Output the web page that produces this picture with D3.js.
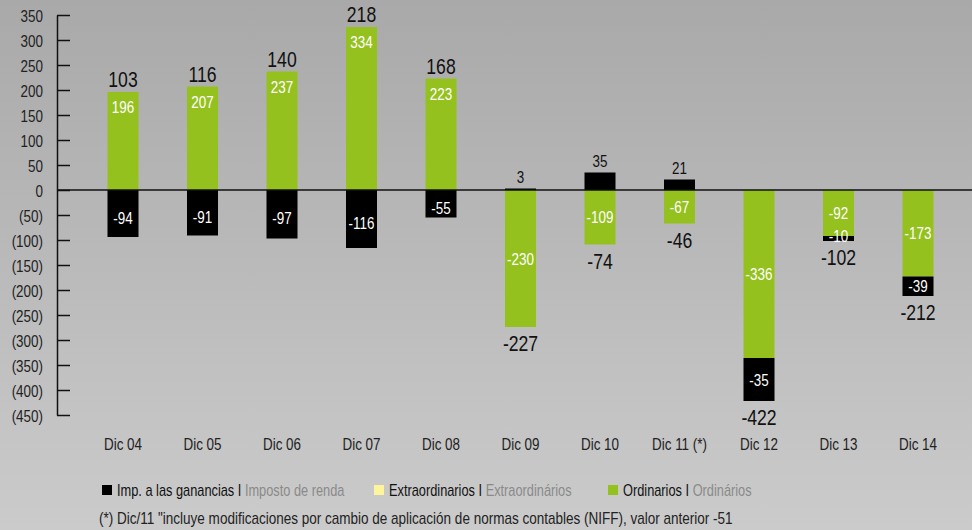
<!DOCTYPE html>
<html>
<head>
<meta charset="utf-8">
<script src="https://cdn.jsdelivr.net/npm/d3@7"></script>
<style>
  html, body { margin: 0; padding: 0; }
  svg text { font-family: 'Liberation Sans', Arial, sans-serif; }
</style>
</head>
<body>
<div id="chart"></div>
<script>
const categories = ['Dic 04', 'Dic 05', 'Dic 06', 'Dic 07', 'Dic 08', 'Dic 09', 'Dic 10', 'Dic 11 (*)', 'Dic 12', 'Dic 13', 'Dic 14']
const ordinarios = [196, 207, 237, 334, 223, -230, -109, -67, -336, -92, -173]
const impuesto = [-94, -91, -97, -116, -55, 3, 35, 21, -35, -10, -39]
// difference between the drawn bar length and the labelled value in the original
const ajusteOrd = [0, 0, 0, -8, 0, -44, 0, 0, 0, 0, 0]
const ajusteImp = [0, 0, 0, 0, 0, 0, 0, 0, -51, 0, 0]
const totales = [103, 116, 140, 218, 168, -227, -74, -46, -422, -102, -212]
const yTicks = [350, 300, 250, 200, 150, 100, 50, 0, -50, -100, -150, -200, -250, -300, -350, -400, -450]

const width = 972, height = 530
const green = '#95c11f', yellow = '#fdf59b'
const cond = 0.84 // horizontal squeeze to mimic the condensed face

const svg = d3.select('#chart').append('svg')
  .attr('width', width)
  .attr('height', height)

// background gradient
const grad = svg.append('defs').append('linearGradient')
  .attr('id', 'bg').attr('x1', 0).attr('y1', 0).attr('x2', 0).attr('y2', 1)
grad.append('stop').attr('offset', '0%').attr('stop-color', '#a9a9a9')
grad.append('stop').attr('offset', '100%').attr('stop-color', '#cbcbcb')
svg.append('rect').attr('width', width).attr('height', height).attr('fill', 'url(#bg)')

const x = d3.scaleBand()
  .domain(categories)
  .range([83.25, 957.75])
  .paddingInner(0.61)
  .paddingOuter(0.305)
const y = d3.scaleLinear().domain([-450, 350]).range([415, 15])

const place = (px, py, s = cond) => `translate(${px},${py}) scale(${s},1)`

// y axis
const yAxis = d3.axisLeft(y)
  .tickValues(yTicks)
  .tickSize(-13)
  .tickSizeOuter(0)
  .tickPadding(14)
  .tickFormat(d => d < 0 ? `(${-d})` : d)
const gy = svg.append('g').attr('transform', 'translate(57,0)').call(yAxis)
gy.select('.domain').attr('stroke', '#111').attr('stroke-width', 1.5)
gy.selectAll('.tick line').attr('stroke', '#111').attr('stroke-width', 1.5)
gy.selectAll('.tick text')
  .attr('x', null).attr('dy', null)
  .attr('transform', place(-14, 6))
  .attr('fill', '#222')
  .style('font-size', '16px')

// rows of data
const rows = categories.map((c, i) => {
  const ord = ordinarios[i], imp = impuesto[i]
  const ordBar = ord + ajusteOrd[i]
  const same = Math.sign(imp) === Math.sign(ord)
  const b0 = same ? ordBar : 0
  const b1 = b0 + imp + ajusteImp[i]
  return {cat: c, ord, ordBar, imp, b0, b1, stacked: same, total: totales[i]}
})

// green bars (ordinarios)
svg.selectAll('.ord')
  .data(rows)
  .enter().append('rect')
  .attr('class', 'ord')
  .attr('x', d => x(d.cat))
  .attr('width', x.bandwidth())
  .attr('y', d => y(Math.max(0, d.ordBar)))
  .attr('height', d => Math.abs(y(d.ordBar) - y(0)))
  .attr('fill', green)

// black bars (impuesto)
svg.selectAll('.imp')
  .data(rows)
  .enter().append('rect')
  .attr('class', 'imp')
  .attr('x', d => x(d.cat))
  .attr('width', x.bandwidth())
  .attr('y', d => y(Math.max(d.b0, d.b1)))
  .attr('height', d => Math.abs(y(d.b1) - y(d.b0)))
  .attr('fill', '#000')

// zero line
svg.append('line')
  .attr('x1', 57).attr('x2', width)
  .attr('y1', y(0)).attr('y2', y(0))
  .attr('stroke', '#111').attr('stroke-width', 1.5)

const cx = d => x(d.cat) + x.bandwidth() / 2

// ordinarios labels
svg.selectAll('.ordLabel')
  .data(rows)
  .enter().append('text')
  .attr('transform', d => place(cx(d), d.ord > 0 ? y(d.ordBar) + 21 : (y(0) + y(d.ordBar)) / 2 + 6))
  .attr('text-anchor', 'middle')
  .attr('fill', '#fff')
  .style('font-size', '16px')
  .text(d => d.ord)

// impuesto labels
const impY = d => {
  if (d.b1 > 0) return y(d.b1) - 6
  const top = y(d.b0), bot = y(d.b1)
  if (!d.stacked) return (top + bot) / 2 + 10
  if (bot - top < 15) return top + 6
  return (top + bot) / 2 + 6
}
svg.selectAll('.impLabel')
  .data(rows)
  .enter().append('text')
  .attr('transform', d => place(cx(d), impY(d)))
  .attr('text-anchor', 'middle')
  .attr('fill', d => d.b1 > 0 ? '#111' : '#fff')
  .style('font-size', '16px')
  .text(d => d.imp)

// total labels
svg.selectAll('.totLabel')
  .data(rows)
  .enter().append('text')
  .attr('transform', d => place(cx(d), d.total > 0
    ? y(Math.max(d.ordBar, d.b1)) - 5
    : y(Math.min(d.ordBar, d.b1)) + 24, d.b1 > 0 && d.total > 0 ? cond : 0.8))
  .attr('text-anchor', 'middle')
  .attr('fill', '#111')
  .style('font-size', d => d.b1 > 0 && d.total > 0 ? '16px' : '22px')
  .text(d => d.total)

// category labels
svg.selectAll('.cat')
  .data(rows)
  .enter().append('text')
  .attr('transform', d => place(cx(d), 450))
  .attr('text-anchor', 'middle')
  .attr('fill', '#222')
  .style('font-size', '16px')
  .text(d => d.cat)

// legend
const legend = [
  {color: '#000', es: 'Imp. a las ganancias', pt: 'Imposto de renda', x: 102},
  {color: yellow, es: 'Extraordinarios', pt: 'Extraordinários', x: 374},
  {color: green, es: 'Ordinarios', pt: 'Ordinários', x: 608}
]
const lg = svg.selectAll('.legend')
  .data(legend)
  .enter().append('g')
  .attr('transform', d => `translate(${d.x},485)`)
lg.append('rect').attr('width', 10).attr('height', 10).attr('fill', d => d.color)
const lt = lg.append('text')
  .attr('transform', place(15, 11, 0.8))
  .style('font-size', '16px')
lt.append('tspan').attr('fill', '#111').text(d => `${d.es} I `)
lt.append('tspan').attr('fill', '#8a8a8a').text(d => d.pt)

svg.append('text')
  .attr('transform', place(99, 524, 0.845))
  .attr('fill', '#222')
  .style('font-size', '16px')
  .text('(*) Dic/11 "incluye modificaciones por cambio de aplicación de normas contables (NIFF), valor anterior -51')
</script>
</body>
</html>
